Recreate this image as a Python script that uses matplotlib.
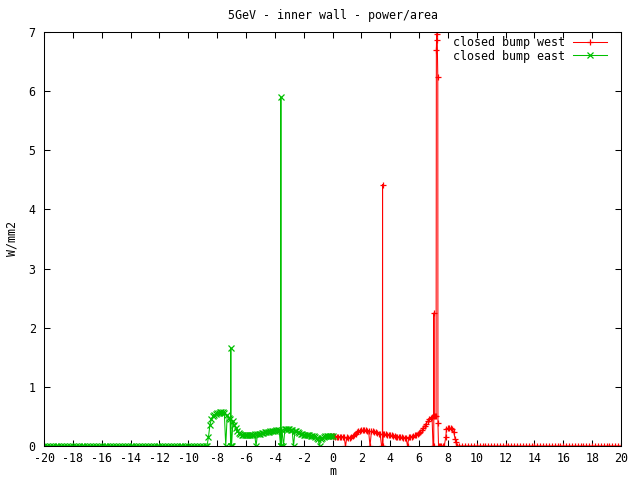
import numpy as np
import matplotlib
matplotlib.use("Agg")
import matplotlib.pyplot as plt

# closed bump east (green), -20 .. 0 m
east_x_flat = np.round(np.arange(-20.0, -8.75, 0.2), 2)
east_y_flat = [0.0] * len(east_x_flat)
east_x_shape = np.round(np.arange(-8.7, 0.05, 0.1), 2)
east_y_shape = [
    0.0, 0.15, 0.35, 0.45, 0.50, 0.52, 0.54, 0.55,
    0.56, 0.57, 0.58, 0.57, 0.56, 0.0, 0.52, 0.48, 0.46, 0.0,
    0.42, 0.35, 0.30, 0.26, 0.22, 0.20, 0.19, 0.18, 0.18, 0.18,
    0.18, 0.18, 0.19, 0.19, 0.19, 0.20, 0.0, 0.20, 0.21, 0.21,
    0.22, 0.22, 0.23, 0.23, 0.24, 0.24, 0.25, 0.25, 0.26, 0.26,
    0.27, 0.27, 0.27, 0.0, 0.27, 0.0, 0.28, 0.28, 0.28, 0.28,
    0.27, 0.27, 0.0, 0.26, 0.25, 0.24, 0.22, 0.21, 0.20, 0.19,
    0.19, 0.18, 0.18, 0.18, 0.17, 0.17, 0.17, 0.16, 0.14, 0.12,
    0.0, 0.12, 0.14, 0.16, 0.17, 0.17, 0.17, 0.17, 0.17, 0.17,
]
# narrow spikes
east_x_spike = [-7.06, -7.05, -7.04, -3.59, -3.58, -3.57]
east_y_spike = [0.0, 1.65, 0.0, 0.0, 5.90, 0.0]

# closed bump west (red), 0 .. 20 m
west_x_shape = np.round(np.arange(-0.1, 6.95, 0.1), 2)
west_y_shape = [
    0.17, 0.17,
    0.17, 0.16, 0.16, 0.16, 0.16, 0.16, 0.16, 0.16, 0.0, 0.15,
    0.14, 0.14, 0.15, 0.17, 0.19, 0.21, 0.23, 0.25, 0.26, 0.27,
    0.27, 0.27, 0.27, 0.26, 0.26, 0.0, 0.25, 0.25, 0.24, 0.23,
    0.22, 0.21, 0.21, 0.0, 0.20, 0.20, 0.20, 0.19, 0.19, 0.18,
    0.18, 0.17, 0.17, 0.16, 0.16, 0.15, 0.15, 0.15, 0.14, 0.14,
    0.14, 0.0, 0.15, 0.15, 0.16, 0.17, 0.18, 0.19, 0.20, 0.22,
    0.24, 0.27, 0.30, 0.34, 0.38, 0.42, 0.46, 0.48, 0.49,
]
west_x_spike = [3.46, 3.47, 3.48]
west_y_spike = [0.0, 4.42, 0.0]
west_x_peak = [6.97, 7.02, 7.03, 7.04, 7.1, 7.18, 7.2, 7.22, 7.26, 7.3,
               7.31, 7.35, 7.45, 7.55, 7.65, 7.75, 7.85, 7.9, 8.0, 8.1,
               8.2, 8.3, 8.4, 8.5, 8.55, 8.6]
west_y_peak = [0.0, 0.0, 2.25, 0.50, 0.51, 0.50, 6.70, 6.97, 6.87, 6.24,
               0.39, 0.0, 0.0, 0.0, 0.0, 0.0, 0.15, 0.28, 0.30, 0.31,
               0.30, 0.28, 0.24, 0.12, 0.07, 0.0]
west_x_flat = np.round(np.arange(8.8, 20.05, 0.2), 2)
west_y_flat = [0.0] * len(west_x_flat)


def merge(xs, ys):
    x = np.concatenate(xs)
    y = np.concatenate(ys)
    order = np.argsort(x, kind="stable")
    return x[order], y[order]


east_x, east_y = merge([east_x_flat, east_x_shape, east_x_spike],
                       [east_y_flat, east_y_shape, east_y_spike])
west_x, west_y = merge([west_x_shape, west_x_spike, west_x_peak, west_x_flat],
                       [west_y_shape, west_y_spike, west_y_peak, west_y_flat])

xticks = list(range(-20, 21, 2))
yticks = list(range(0, 8))

font = "DejaVu Sans Mono"
fs = 8.4

fig = plt.figure(figsize=(6.4, 4.8), dpi=100)
ax = fig.add_axes([44 / 640, 34 / 480, 577 / 640, 414 / 480])

ax.plot(west_x, west_y, color="#ff0000", lw=0.75, marker="+", ms=5,
        mew=0.9, label="closed bump west")
ax.plot(east_x, east_y, color="#00c000", lw=0.75, marker="x", ms=4,
        mew=0.9, label="closed bump east")

ax.set_xlim(-20, 20)
ax.set_ylim(0, 7)
ax.set_xticks(xticks)
ax.set_yticks(yticks)
ax.set_xticklabels([str(t) for t in xticks], family=font, fontsize=fs)
ax.set_yticklabels([str(t) for t in yticks], family=font, fontsize=fs)
ax.tick_params(direction="in", top=True, right=True, length=4.5, width=0.75)
ax.tick_params(axis="x", pad=4)
ax.tick_params(axis="y", pad=6)
for s in ax.spines.values():
    s.set_linewidth(0.75)

ax.set_title("5GeV - inner wall - power/area", family=font, fontsize=fs,
             pad=9)
ax.set_xlabel("m", family=font, fontsize=fs, labelpad=0.5)
ax.set_ylabel("W/mm2", family=font, fontsize=fs, labelpad=7)

ax.legend(loc="upper right", bbox_to_anchor=(607 / 640, 1 - 36 / 480),
          bbox_transform=fig.transFigure, frameon=False, markerfirst=False,
          prop={"family": font, "size": fs}, handlelength=2.9,
          handletextpad=0.7, labelspacing=0.05, borderpad=0,
          borderaxespad=0, numpoints=1)

fig.savefig("out.png", dpi=100)
